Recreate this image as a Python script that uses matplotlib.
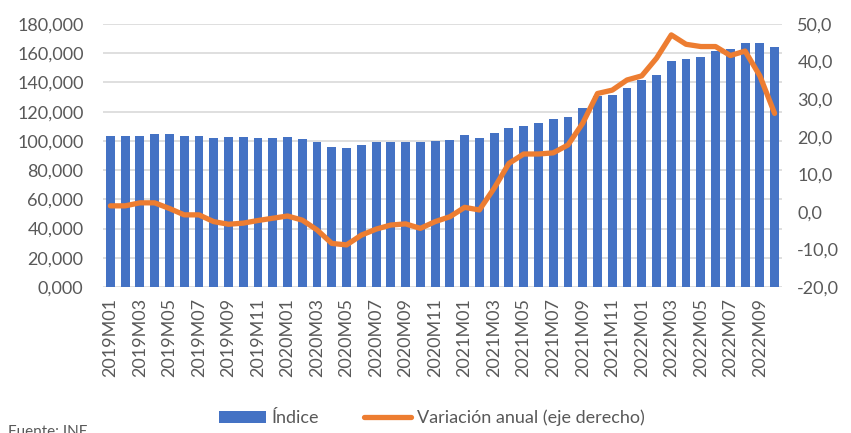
import matplotlib.pyplot as plt
from matplotlib.ticker import FuncFormatter

# Datos
years = [2019, 2020, 2021, 2022]
meses = [f'{y}M{m:02d}' for y in years for m in range(1, 13)][:46]

indice = [
    103.6, 103.6, 103.6, 104.6, 104.6, 103.6, 103.6, 102.3, 102.9, 102.9,
    102.3, 102.3, 102.9, 101.4, 99.1, 95.9, 95.0, 97.3, 99.1, 99.1,
    99.1, 99.1, 99.8, 100.5, 103.9, 102.3, 105.5, 108.7, 110.0, 112.5,
    115.1, 116.4, 122.8, 130.4, 131.5, 136.5, 141.8, 145.2, 154.8, 156.2,
    157.7, 161.6, 162.8, 166.7, 166.7, 164.4,
]
indice = [v * 1000 for v in indice]

variacion = [
    1.6, 1.6, 2.4, 2.4, 0.9, -0.8, -0.8, -2.6, -3.3, -3.0,
    -2.3, -1.7, -1.1, -2.2, -4.8, -8.4, -8.8, -6.2, -4.6, -3.5,
    -3.2, -4.4, -2.6, -1.3, 1.2, 0.5, 6.3, 12.9, 15.4, 15.4,
    15.7, 17.8, 23.6, 31.5, 32.4, 35.1, 36.2, 40.9, 47.1, 44.6,
    44.0, 44.0, 41.6, 42.8, 36.2, 26.2,
]

AZUL = '#4472C4'
NARANJA = '#ED7D31'
GRIS = '#595959'

plt.rcParams['font.family'] = ['Lato', 'DejaVu Sans']


def fmt_izq(v, p):
    # el eje izquierdo muestra 0 como "0,000"
    return '0,000' if v == 0 else f'{int(v):,}'


fig = plt.figure(figsize=(8.51, 4.33), dpi=100)
ax = fig.add_axes([103 / 851, 1 - 287 / 433, 679 / 851, 263 / 433])
ax2 = ax.twinx()

x = list(range(len(meses)))
ax.bar(x, indice, width=0.6, color=AZUL, zorder=2, label='Índice')
ax2.plot(x, variacion, color=NARANJA, linewidth=3.8, solid_capstyle='round',
         label='Variación anual (eje derecho)', zorder=3)

ax.set_ylim(0, 180000)
ax.set_yticks(range(0, 180001, 20000))
ax.yaxis.set_major_formatter(FuncFormatter(fmt_izq))
ax2.set_ylim(-20, 50)
ax2.set_yticks(range(-20, 51, 10))
ax2.yaxis.set_major_formatter(FuncFormatter(lambda v, p: f'{v:.1f}'.replace('.', ',')))
ax.set_xlim(-0.5, len(meses) - 0.5)

ax.set_xticks(x[::2])
ax.set_xticklabels(meses[::2], rotation=90)

ax.grid(axis='y', color='#D9D9D9', linewidth=1.2, zorder=0)
ax.set_axisbelow(True)
for a in (ax, ax2):
    for s in a.spines.values():
        s.set_visible(False)
    a.tick_params(length=0, labelsize=13, colors=GRIS)
ax.tick_params(axis='y', pad=14)
ax2.tick_params(axis='y', pad=11)
ax.tick_params(axis='x', pad=8)

h1, l1 = ax.get_legend_handles_labels()
h2, l2 = ax2.get_legend_handles_labels()
fig.legend(h1 + h2, l1 + l2, loc='center', bbox_to_anchor=(432 / 851, 1 - 418 / 433),
           ncol=2, frameon=False, fontsize=13, labelcolor=GRIS,
           handlelength=2.6, columnspacing=2.5, handletextpad=0.3)

fig.text(8 / 851, 1 - 432 / 433, 'Fuente: INE', fontsize=11, color=GRIS, va='center')

fig.savefig('out.png', dpi=100)
